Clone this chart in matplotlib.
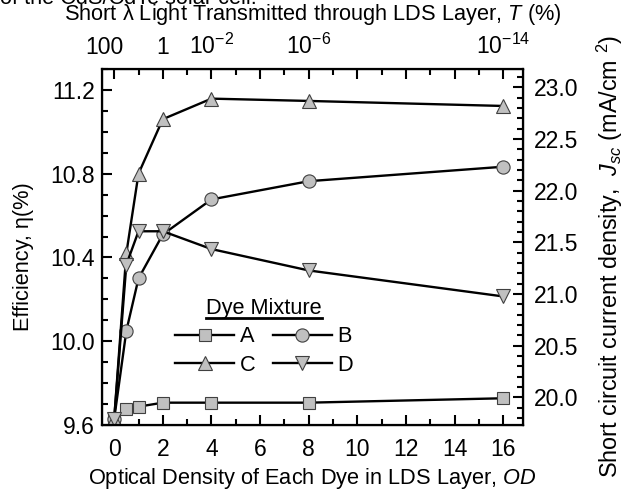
import matplotlib
matplotlib.use('Agg')
import matplotlib.pyplot as plt
from matplotlib.ticker import MultipleLocator, FixedLocator, FixedFormatter, FormatStrFormatter
from matplotlib.transforms import ScaledTranslation

plt.rcParams['font.family'] = ['Liberation Sans', 'DejaVu Sans']
plt.rcParams['mathtext.fontset'] = 'custom'
plt.rcParams['mathtext.rm'] = 'Liberation Sans'
plt.rcParams['mathtext.it'] = 'Liberation Sans:italic'

# Data
od = [0, 0.5, 1, 2, 4, 8, 16]
eff_a = [9.63, 9.677, 9.688, 9.707, 9.707, 9.707, 9.728]
eff_b = [9.63, 10.05, 10.30, 10.51, 10.677, 10.764, 10.833]
eff_c = [9.63, 10.42, 10.80, 11.06, 11.158, 11.147, 11.123]
eff_d = [9.63, 10.366, 10.525, 10.525, 10.44, 10.338, 10.214]
series = [('A', eff_a, 's'), ('B', eff_b, 'o'), ('C', eff_c, '^'), ('D', eff_d, 'v')]

top_ticks = [0, 2, 4, 6, 8, 10, 12, 14, 16]
top_labels = ['100', '1', '$10^{\\mathrm{-2}}$', '', '$10^{\\mathrm{-6}}$', '', '', '', '$10^{\\mathrm{-14}}$']

fig = plt.figure(figsize=(6.26, 4.92), dpi=100)
ax = fig.add_axes([0.163, 0.136, 0.672, 0.724])

fs = 15.7    # axis titles
tfs = 16.5   # tick labels
msize = {'s': 9, 'o': 9.5, '^': 10.5, 'v': 10.5}
lines = {}
for name, y, m in series:
    lines[name], = ax.plot(od, y, color='black', lw=1.7, marker=m, ms=msize[m],
                           mfc='#c0c0c0', mec='#404040', mew=0.8, label=name)

ax.set_xlim(-0.5, 16.8)
ax.set_ylim(9.6, 11.3)
ax.xaxis.set_major_locator(MultipleLocator(2))
ax.xaxis.set_minor_locator(MultipleLocator(1))
ax.yaxis.set_major_locator(MultipleLocator(0.4))
ax.yaxis.set_minor_locator(MultipleLocator(0.1))
ax.yaxis.set_major_formatter(FormatStrFormatter('%.1f'))
ax.tick_params(which='both', direction='in', width=1.5, labelsize=tfs)
ax.tick_params(axis='x', pad=9)
ax.tick_params(axis='y', pad=5)
ax.tick_params(which='major', length=7)
ax.tick_params(which='minor', length=4)
for s in ax.spines.values():
    s.set_linewidth(1.6)
ax.set_xlabel('Optical Density of Each Dye in LDS Layer, $\\it{OD}$', fontsize=fs, labelpad=4)
ax.set_ylabel('Efficiency, \u03b7(%)', fontsize=fs, labelpad=12)
ax.yaxis.label.set_y(0.472)

# right axis: short circuit current density
ax2 = ax.twinx()
ax2.set_ylim(19.73, 23.18)
ax2.yaxis.set_major_locator(MultipleLocator(0.5))
ax2.yaxis.set_minor_locator(MultipleLocator(0.1))
ax2.yaxis.set_major_formatter(FormatStrFormatter('%.1f'))
ax2.tick_params(which='both', direction='in', width=1.5, labelsize=tfs, pad=8)
ax2.tick_params(which='major', length=7)
ax2.tick_params(which='minor', length=4)
ax2.set_ylabel('Short circuit current density,  $\\it{J}_{sc}$ (mA/cm $^{2}$)', fontsize=16.8, labelpad=12)
ax2.yaxis.label.set_y(0.475)

# top axis: transmitted light
ax3 = ax.twiny()
ax3.set_xlim(ax.get_xlim())
ax3.xaxis.set_major_locator(FixedLocator(top_ticks))
ax3.xaxis.set_major_formatter(FixedFormatter(top_labels))
ax3.xaxis.set_minor_locator(MultipleLocator(1))
ax3.tick_params(which='both', direction='in', width=1.5, labelsize=tfs, pad=7)
ax3.tick_params(which='major', length=7)
ax3.tick_params(which='minor', length=4)
ax3.set_xlabel('Short \u03bb Light Transmitted through LDS Layer, $\\it{T}$ (%)', fontsize=fs, labelpad=10)
lab100 = ax3.xaxis.get_major_ticks()[0].label2
lab100.set_transform(lab100.get_transform() + ScaledTranslation(-10 / 100, 0, fig.dpi_scale_trans))

# legend rows A B / C D (matplotlib fills columns first)
order = ['A', 'C', 'B', 'D']
leg = ax.legend([lines[k] for k in order], order, ncol=2, title='Dye Mixture',
                fontsize=fs, title_fontsize=fs, frameon=False,
                loc='upper center', bbox_to_anchor=(0.385, 0.388), borderpad=0,
                handlelength=2.7, columnspacing=0.8, handletextpad=0.25,
                labelspacing=0.35)

fig.canvas.draw()
tb = leg.get_title().get_window_extent()
inv = fig.transFigure.inverted()
(x0, y0), (x1, y1) = inv.transform([(tb.x0, tb.y0), (tb.x1, tb.y1)])
fig.add_artist(plt.Line2D([x0, x1], [y0 + 0.002, y0 + 0.002], color='black', lw=2))

# caption line cropped at the top edge of the picture
fig.text(0.0, 1 - 4 / 492, 'of the CdS/CdTe solar cell.', fontsize=fs, va='baseline', ha='left')

fig.savefig('out.png', dpi=100)
